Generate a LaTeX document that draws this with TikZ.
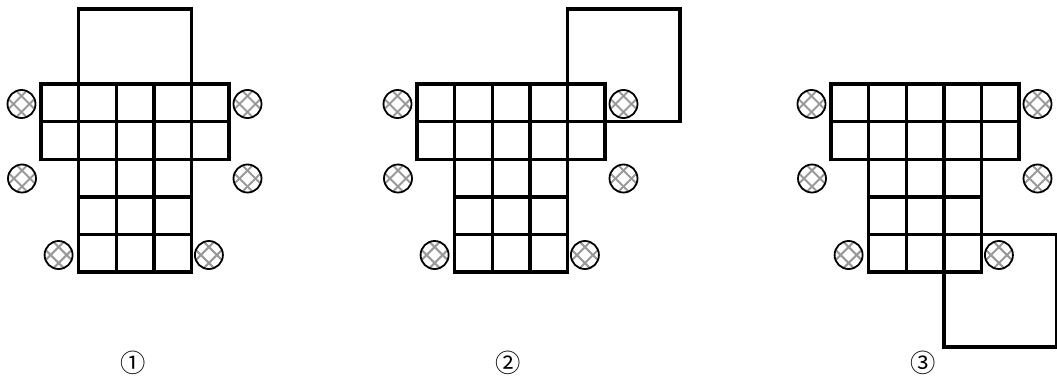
\documentclass[tikz,border=0pt]{standalone}
\usepackage{fontspec}
\newfontfamily\cjk{Noto Sans CJK SC}
\newcommand\csz{37.6}

\begin{document}
\begin{tikzpicture}[
x=0.025cm, y=-0.025cm,
cell/.style={draw=black, line width=0.085cm},
sheet/.style={draw=black, line width=0.09cm},
hatch/.style={gray!80, line width=0.05cm},
num/.style={font=\cjk\fontsize{18}{18}\selectfont, inner sep=0pt},
bead/.pic={
  \begin{scope}
  \clip (0,0) circle[radius=0.35cm];
  \foreach \o in {-8,8} {
    \draw[hatch] (-20,{-20+\o}) -- (20,{20+\o});
    \draw[hatch] (-20,{20+\o}) -- (20,{-20+\o});
  }
  \end{scope}
  \draw[line width=0.045cm] (0,0) circle[radius=0.35cm];
}
]
\useasboundingbox (0,0) rectangle (1057,383);

% three boards with their beads
\foreach \L in {41,417,831} {
  \foreach \r in {0,1}
    \foreach \c in {0,...,4}
      \draw[cell] ({\L+\c*\csz},{84+\r*\csz}) rectangle ++(\csz,\csz);
  \foreach \r in {2,3,4}
    \foreach \c in {1,2,3}
      \draw[cell] ({\L+\c*\csz},{84+\r*\csz}) rectangle ++(\csz,\csz);
  \pic at ({\L-19.5},104) {bead};
  \pic at ({\L+5*\csz+18.5},104) {bead};
  \pic at ({\L-19},178.5) {bead};
  \pic at ({\L+5*\csz+18.5},178.5) {bead};
  \pic at ({\L+\csz-20},255) {bead};
  \pic at ({\L+4*\csz+17.5},255) {bead};
}

% the moved square
\draw[sheet] (78.6,8.8) rectangle (191.4,84);
\draw[sheet] (567.4,8.8) rectangle (680.2,121.6);
\draw[sheet] (943.8,234.4) rectangle (1056.6,347.2);

% labels
\node[num] (one) at (133,363) {①};
\node[num] (two) at (508,363) {②};
\node[num] (three) at (923,363) {③};
\end{tikzpicture}
\end{document}
